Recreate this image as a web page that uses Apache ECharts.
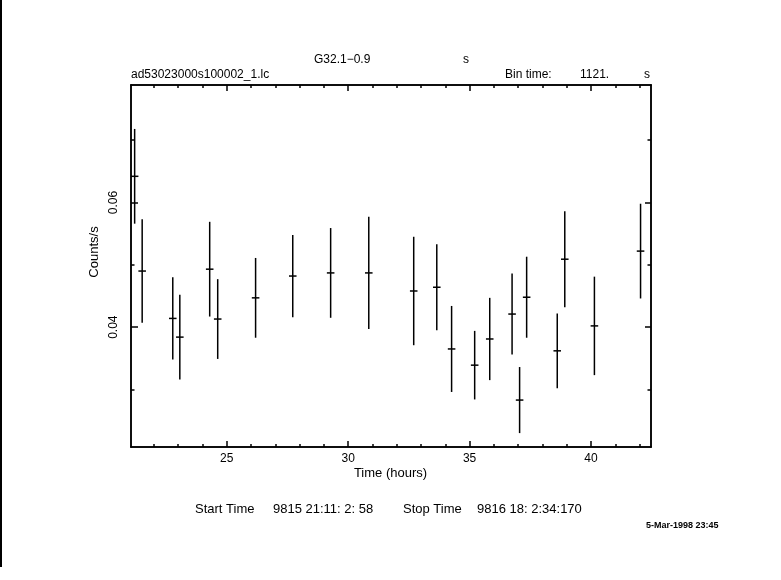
<!DOCTYPE html>
<html>
<head>
<meta charset="utf-8">
<script src="https://cdn.jsdelivr.net/npm/echarts@6/dist/echarts.min.js"></script>
<style>
html,body{margin:0;padding:0;background:#fff;}
#chart{width:781px;height:580px;}
</style>
</head>
<body>
<div id="chart"></div>
<script>
// ---- data ----
var times = [21.21, 21.52, 22.78, 23.07, 24.30, 24.63, 26.19, 27.72, 29.28, 30.85,
             32.70, 33.65, 34.26, 35.21, 35.83, 36.75, 37.06, 37.35, 38.61, 38.92, 40.14, 42.04];
var rates = [0.0642, 0.0490, 0.0414, 0.0384, 0.0493, 0.0413, 0.0447, 0.0482, 0.0487, 0.0487,
             0.0458, 0.0464, 0.0365, 0.0339, 0.0381, 0.0421, 0.0283, 0.0448, 0.0362, 0.0509, 0.0402, 0.0522];
var rateErrs = [0.0076, 0.0083, 0.0066, 0.0068, 0.0076, 0.0064, 0.0064, 0.0066, 0.0072, 0.0090,
                0.0087, 0.0069, 0.0069, 0.0055, 0.0066, 0.0065, 0.0053, 0.0065, 0.0060, 0.0077, 0.0079, 0.0076];
var binTimeSec = 1121;
var xMajorTicks = [25, 30, 35, 40];
var xMinorTicks = [22, 23, 24, 26, 27, 28, 29, 31, 32, 33, 34, 36, 37, 38, 39, 41, 42];
var yMajorTicks = [0.04, 0.06];
var yMinorTicks = [0.03, 0.05, 0.07];

var xMin = 21.06, xMax = 42.47, yMin = 0.02077, yMax = 0.07885;
var FONT = 'Liberation Sans';

var binHalf = binTimeSec / 2 / 3600;
var seriesData = times.map(function (t, i) { return [t, rates[i], rateErrs[i]]; });

function xAx(pos, ticks, len, showLabel) {
  return {
    type: 'value', position: pos, min: xMin, max: xMax,
    axisLine: { show: true, onZero: false, lineStyle: { color: '#000', width: 1.5 } },
    axisTick: { show: true, inside: true, length: len, customValues: ticks, lineStyle: { color: '#000', width: 1.5 } },
    axisLabel: { show: showLabel, customValues: ticks, color: '#000', fontFamily: FONT, fontSize: 12, margin: 6 },
    splitLine: { show: false }
  };
}
function yAx(pos, ticks, len, showLabel) {
  return {
    type: 'value', position: pos, min: yMin, max: yMax,
    axisLine: { show: true, onZero: false, lineStyle: { color: '#000', width: 1.5 } },
    axisTick: { show: true, inside: true, length: len, customValues: ticks, lineStyle: { color: '#000', width: 1.5 } },
    axisLabel: { show: showLabel, customValues: ticks, rotate: 90, color: '#000', fontFamily: FONT, fontSize: 12, margin: 11,
                 formatter: function (v) { return v.toFixed(2); } },
    splitLine: { show: false }
  };
}

var chart = echarts.init(document.getElementById('chart'), null, { renderer: 'canvas' });

function txt(x, y, s, opts) {
  opts = opts || {};
  return {
    type: 'text', x: x, y: y, rotation: opts.rotation || 0,
    style: {
      text: s, fill: '#000', fontFamily: FONT, fontSize: opts.size || 12,
      fontWeight: opts.weight || 'normal',
      align: opts.align || 'left', verticalAlign: 'middle'
    }
  };
}

chart.setOption({
  backgroundColor: '#fff',
  animation: false,
  grid: { left: 131, right: 130, top: 85, bottom: 133, containLabel: false },
  xAxis: [
    xAx('bottom', xMajorTicks, 6, true),
    xAx('bottom', xMinorTicks, 3, false),
    xAx('top', xMajorTicks, 6, false),
    xAx('top', xMinorTicks, 3, false)
  ],
  yAxis: [
    yAx('left', yMajorTicks, 7, true),
    yAx('left', yMinorTicks, 3.5, false),
    yAx('right', yMajorTicks, 6, false),
    yAx('right', yMinorTicks, 3.5, false)
  ],
  series: [{
    type: 'custom',
    xAxisIndex: 0, yAxisIndex: 0,
    clip: true,
    data: seriesData,
    encode: { x: 0, y: 1 },
    renderItem: function (params, api) {
      var t = api.value(0), r = api.value(1), e = api.value(2);
      var top = api.coord([t, r + e]);
      var bot = api.coord([t, r - e]);
      var lft = api.coord([t - binHalf, r]);
      var rgt = api.coord([t + binHalf, r]);
      var st = { stroke: '#000', lineWidth: 1.5 };
      return {
        type: 'group',
        children: [
          { type: 'line', shape: { x1: top[0], y1: top[1], x2: bot[0], y2: bot[1] }, style: st },
          { type: 'line', shape: { x1: lft[0], y1: lft[1], x2: rgt[0], y2: rgt[1] }, style: st }
        ]
      };
    }
  }],
  graphic: [
    { type: 'line', shape: { x1: 1, y1: 0, x2: 1, y2: 567 }, style: { stroke: '#000', lineWidth: 2 } },
    txt(314, 60, 'G32.1\u22120.9'),
    txt(466, 60, 's', { align: 'center' }),
    txt(131, 75, 'ad53023000s100002_1.lc'),
    txt(505, 75, 'Bin time:'),
    txt(580, 75, '1121.'),
    txt(647, 75, 's', { align: 'center' }),
    txt(390.5, 473, 'Time (hours)', { align: 'center', size: 13 }),
    txt(94, 252, 'Counts/s', { align: 'center', size: 13, rotation: Math.PI / 2 }),
    txt(195, 509, 'Start Time', { size: 13 }),
    txt(273, 509, '9815 21:11: 2: 58', { size: 13 }),
    txt(403, 509, 'Stop Time', { size: 13 }),
    txt(477, 509, '9816 18: 2:34:170', { size: 13 }),
    txt(646, 526, '5-Mar-1998 23:45', { size: 9, weight: 'bold' })
  ]
});
</script>
</body>
</html>
